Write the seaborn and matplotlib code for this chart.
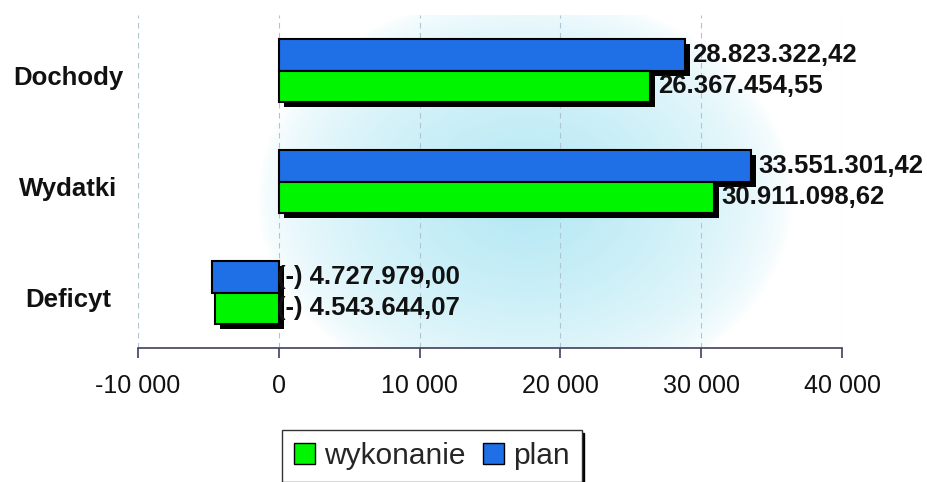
import numpy as np
import pandas as pd
import matplotlib
matplotlib.use("Agg")
import matplotlib.pyplot as plt
import seaborn as sns
from matplotlib.patches import Patch, Rectangle
from matplotlib.colors import LinearSegmentedColormap
from matplotlib.transforms import blended_transform_factory, offset_copy

# data (zl)
categories = ["Dochody", "Wydatki", "Deficyt"]
plan = [28823322.42, 33551301.42, -4727979.00]
wykonanie = [26367454.55, 30911098.62, -4543644.07]
tick_vals = [-10000, 0, 10000, 20000, 30000, 40000]

df = pd.DataFrame({
    "kategoria": categories * 2,
    "seria": ["plan"] * 3 + ["wykonanie"] * 3,
    "kwota": plan + wykonanie,
})
df["tys"] = df["kwota"] / 1000

sns.set_theme(style="white")
plt.rcParams["font.family"] = ["Liberation Sans", "DejaVu Sans"]

W, H = 927, 482
fig = plt.figure(figsize=(W / 100, H / 100), dpi=100)
pos = [138 / W, 1 - 348 / H, 704 / W, 333 / H]

# background glow behind the plot
bg = fig.add_axes(pos, zorder=0)
gx, gy = np.meshgrid(np.linspace(0, 1, 400), np.linspace(0, 1, 300))
r = np.sqrt(((gx - 0.55) / 0.38) ** 2 + ((gy - 0.45) / 0.62) ** 2)
glow = np.clip(1 - r, 0, 1) ** 0.6
cmap = LinearSegmentedColormap.from_list("glow", ["#FFFFFF", "#B4E8F4"])
bg.imshow(glow, cmap=cmap, aspect="auto", origin="lower", extent=(0, 1, 0, 1),
          interpolation="bilinear")
bg.axis("off")

ax = fig.add_axes(pos, zorder=1)
ax.set_facecolor("none")

colors = {"plan": "#1F6FE6", "wykonanie": "#00F500"}
sns.barplot(data=df, x="tys", y="kategoria", hue="seria",
            hue_order=["plan", "wykonanie"], order=categories,
            palette=colors, saturation=1, width=0.56, orient="h",
            edgecolor="black", linewidth=1.5, legend=False, ax=ax, zorder=3)

# black drop shadows
shift = offset_copy(ax.transData, fig=fig, x=5, y=-5, units="dots")
for p in list(ax.patches):
    if p.get_width() == 0:
        continue
    ax.add_patch(Rectangle(p.get_xy(), p.get_width(), p.get_height(),
                           transform=shift, facecolor="black",
                           edgecolor="none", zorder=2))

ax.set_xlim(-10000, 40000)
ax.set_ylim(2.5, -0.5)
ax.set_xticks(tick_vals)
ax.set_xticklabels([f"{v:,}".replace(",", " ") for v in tick_vals],
                   fontsize=18, color="#111111")
ax.set_xlabel("")
ax.set_ylabel("")
ax.set_yticks([])

for s in ["top", "right", "left"]:
    ax.spines[s].set_visible(False)
ax.spines["bottom"].set_color("#404060")
ax.spines["bottom"].set_linewidth(1.2)
ax.tick_params(axis="x", direction="out", length=7, width=1.2,
               color="#404060", pad=12, bottom=True)

for v in tick_vals:
    ax.axvline(v, color="#AFC6D2", lw=0.8, ls=(0, (5, 4)), zorder=1)


def fmt(v):
    s = f"{abs(v):,.2f}".replace(",", " ").replace(".", ",").replace(" ", ".")
    return ("(-) " + s) if v < 0 else s


# value labels next to the bars
offs = {"plan": -0.14, "wykonanie": 0.14}
for name, vals in [("plan", plan), ("wykonanie", wykonanie)]:
    for i, v in enumerate(vals):
        x = max(v / 1000, 0)
        dx = 5.5 if v > 0 else -1
        ax.annotate(fmt(v), (x, i + offs[name]), xytext=(dx, 0),
                    textcoords="offset points", ha="left", va="center",
                    fontsize=18.5, fontweight="bold", color="#111111", zorder=5)

# category labels
tr = blended_transform_factory(fig.transFigure, ax.transData)
for i, c in enumerate(categories):
    ax.text(68 / W, i + 0.07, c, transform=tr, ha="center", va="center",
            fontsize=18.5, fontweight="bold", color="#111111")

handles = [Patch(facecolor=colors["wykonanie"], edgecolor="black", label="wykonanie"),
           Patch(facecolor=colors["plan"], edgecolor="black", label="plan")]
leg = fig.legend(handles=handles, loc="upper left",
                 bbox_to_anchor=(282 / W, 1 - 430 / H), ncol=2, fontsize=21.5,
                 frameon=True, fancybox=False, edgecolor="#333333",
                 handlelength=0.7, handleheight=0.7, handletextpad=0.3,
                 columnspacing=0.6, borderpad=0.4, borderaxespad=0,
                 shadow={"color": "black", "alpha": 1})
leg.get_frame().set_linewidth(1.0)

fig.savefig("out.png", dpi=100, facecolor="white")
